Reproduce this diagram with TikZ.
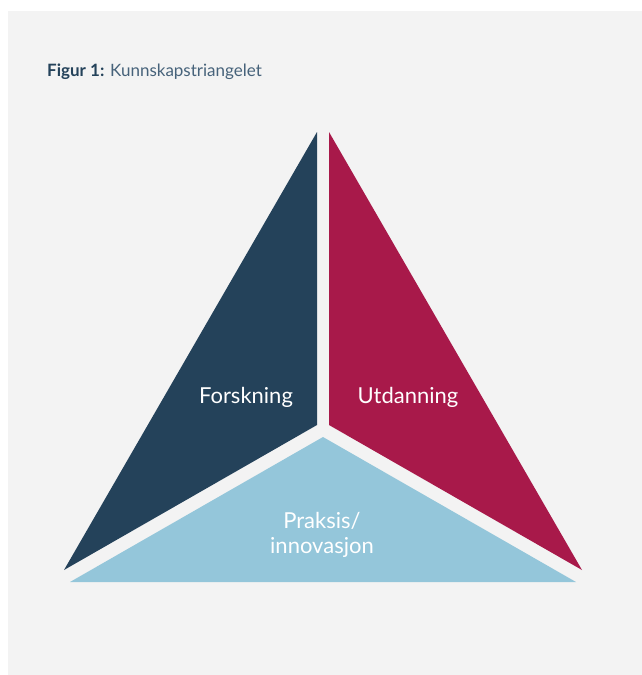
\documentclass[tikz,border=0pt]{standalone}
\usepackage{fontspec}
\setmainfont{Lato}
\definecolor{bggray}{HTML}{F3F3F3}
\definecolor{forskblue}{HTML}{24425A}
\definecolor{utdred}{HTML}{A8194A}
\definecolor{praksblue}{HTML}{94C6DA}
\definecolor{titleblue}{HTML}{46627A}
\tikzset{
  label/.style={text=white,inner sep=0pt,font=\fontsize{22}{25}\selectfont}
}

\begin{document}
\begin{tikzpicture}[x=1pt,y=-1pt]
\useasboundingbox (0,0) rectangle (642,675);
\fill[bggray] (8,11) rectangle (642,675);
\coordinate (FT) at (317,132);
\coordinate (FB) at (317,425);
\coordinate (FL) at (64,570);
\coordinate (UT) at (329,132);
\coordinate (UB) at (329,425);
\coordinate (UR) at (582,570);
\coordinate (PT) at (323,437);
\coordinate (PL) at (70,582);
\coordinate (PR) at (576,582);
\fill[forskblue] (FT)--(FB)--(FL)--cycle;
\fill[utdred] (UT)--(UB)--(UR)--cycle;
\fill[praksblue] (PT)--(PL)--(PR)--cycle;
\node[anchor=base west,inner sep=0pt,font=\fontsize{17}{20}\selectfont] (title) at (47,76)
  {\textcolor{forskblue}{\textbf{Figur 1:}} \textcolor{titleblue}{Kunnskapstriangelet}};
\node[label,anchor=base] (forskning) at (246,403) {Forskning};
\node[label,anchor=base] (utdanning) at (408,403) {Utdanning};
\node[label,align=center,anchor=base] (praksis) at (322,553) {Praksis/\\innovasjon};
\end{tikzpicture}
\end{document}
